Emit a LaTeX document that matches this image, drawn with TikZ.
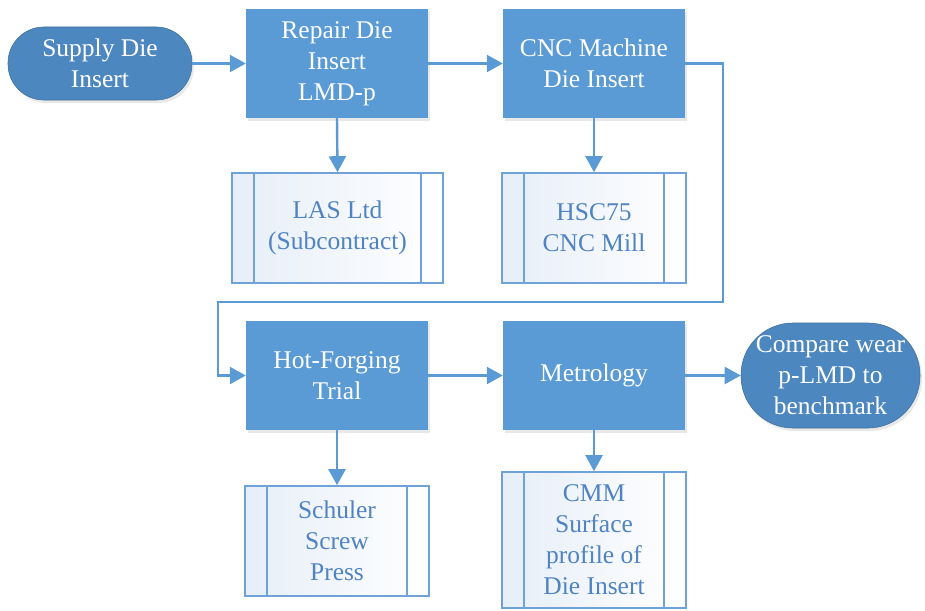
\documentclass[tikz,border=0pt]{standalone}
\usepackage{fontspec}
\setmainfont{Liberation Serif}
\usetikzlibrary{arrows.meta,shadows}
\definecolor{procblue}{HTML}{5B9BD5}
\definecolor{termblue}{HTML}{4D87C0}
\definecolor{termedge}{HTML}{41719C}
\definecolor{subedge}{HTML}{6FA3D8}
\definecolor{subtext}{HTML}{4F83C2}
\definecolor{subfill}{HTML}{E6EEF8}
\definecolor{connblue}{HTML}{5B9BD5}
\tikzset{
  basefont/.style={font=\fontsize{25.5}{31}\selectfont, align=center, inner sep=0pt},
  procbox/.style={basefont, rectangle, fill=procblue, text=white,
    minimum width=182pt, minimum height=109pt,
    drop shadow={opacity=0.18, shadow xshift=2pt, shadow yshift=-3pt}},
  termbox/.style={basefont, rectangle, rounded corners=36pt, fill=termblue, draw=termedge,
    line width=0.6pt, text=white,
    drop shadow={opacity=0.18, shadow xshift=2pt, shadow yshift=-3pt}},
  subbox/.style={basefont, rectangle, draw=subedge, line width=1.6pt, text=subtext,
    left color=subfill, right color=white, minimum height=110pt,
    path picture={
      \draw[subedge, line width=1.6pt]
        ([xshift=22pt]path picture bounding box.north west) --
        ([xshift=22pt]path picture bounding box.south west);
      \draw[subedge, line width=1.6pt]
        ([xshift=-22pt]path picture bounding box.north east) --
        ([xshift=-22pt]path picture bounding box.south east);
    }},
  conn/.style={draw=connblue, line width=2.4pt,
    -{Triangle[length=16pt,width=17pt]}},
}
\begin{document}
\begin{tikzpicture}[x=1pt,y=-1pt]
\useasboundingbox (0,0) rectangle (925,610);
% top row
\node[termbox, minimum width=184pt, minimum height=73pt] (supply) at (100,63.5) {Supply Die\\Insert};
\node[procbox] (repair) at (337,63.5) {Repair Die\\Insert\\LMD-p};
\node[procbox] (cnc) at (594,63.5) {CNC Machine\\Die Insert};
% subprocesses top
\node[subbox, minimum width=211pt] (las) at (337.5,228) {LAS Ltd\\(Subcontract)};
\node[subbox, minimum width=184pt] (hsc) at (594,228) {HSC75\\CNC Mill};
% bottom row
\node[procbox] (hot) at (337,375.5) {Hot-Forging\\Trial};
\node[procbox] (metro) at (594,375.5) {Metrology};
\node[termbox, minimum width=179pt, minimum height=105pt, rounded corners=52pt] (compare) at (830.5,375.5) {Compare wear\\p-LMD to\\benchmark};
% subprocesses bottom
\node[subbox, minimum width=184pt] (schuler) at (337,541) {Schuler\\Screw\\Press};
\node[subbox, minimum width=184pt, minimum height=136pt] (cmm) at (594,540) {CMM\\Surface\\profile of\\Die Insert};
% loop coordinates
\coordinate (l2) at (723,302);
\coordinate (l3) at (218,302);
% connectors
\draw[conn] (supply.east) -- (repair.west);
\draw[conn] (repair.east) -- (cnc.west);
\draw[conn] (repair.south) -- (las.north);
\draw[conn] (cnc.south) -- (hsc.north);
\draw[conn] (cnc.east) -| (l2) -- (l3) |- (hot.west);
\draw[conn] (hot.east) -- (metro.west);
\draw[conn] (metro.east) -- (compare.west);
\draw[conn] (hot.south) -- (schuler.north);
\draw[conn] (metro.south) -- (cmm.north);
\end{tikzpicture}
\end{document}
